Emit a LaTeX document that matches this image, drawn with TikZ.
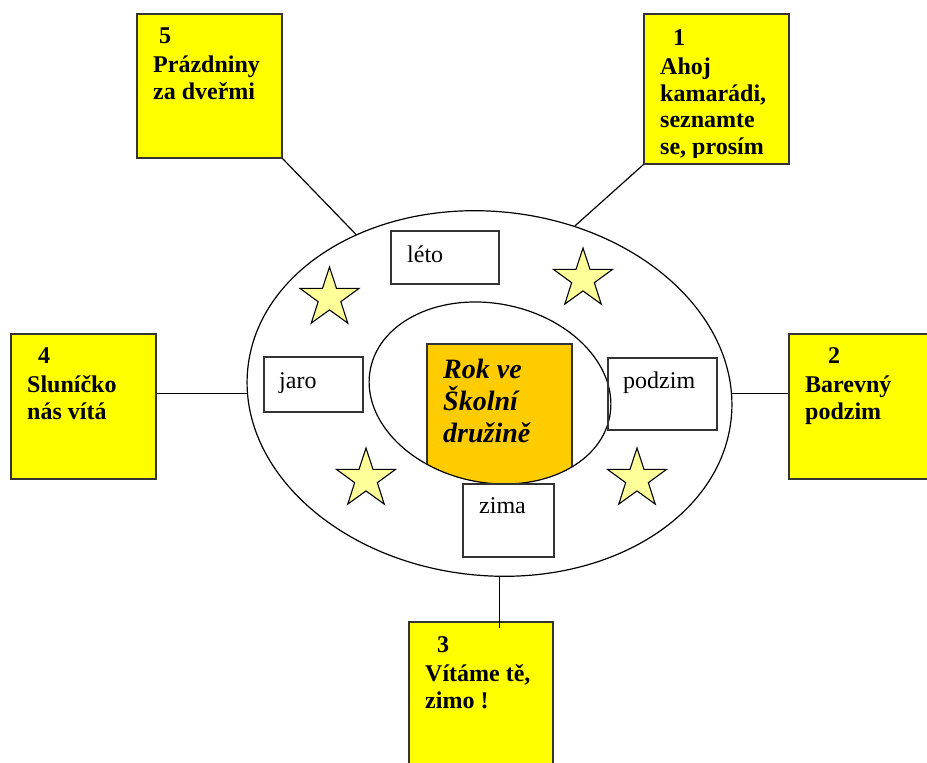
\documentclass[tikz,border=0pt]{standalone}
\usepackage{fontspec}
\setmainfont{Liberation Serif}
\usetikzlibrary{shapes.geometric,calc}
\definecolor{zluta}{HTML}{FFFF00}
\definecolor{oranz}{HTML}{FFCC00}
\definecolor{hvezdy}{HTML}{FFFF99}
\definecolor{ramecek}{HTML}{333333}
\begin{document}
\begin{tikzpicture}[x=1pt,y=-1pt,
	tema/.style={draw=ramecek, fill=zluta, line width=1.3pt, minimum width=145pt, inner sep=0pt},
	obdobi/.style={draw=ramecek, line width=1.3pt, inner sep=0pt},
	hvezda/.style={star, star points=5, star point ratio=2.6, draw, fill=hvezdy, line width=1.1pt, minimum size=62pt, inner sep=0pt},
	popis/.style={anchor=base west, inner sep=0pt, align=left, font=\fontsize{24}{26.5}\selectfont\bfseries},
	slovo/.style={anchor=base west, inner sep=0pt, font=\fontsize{24}{28}\selectfont},
	spoj/.style={line width=1.2pt}]
	\useasboundingbox (0,0) rectangle (927,763);
	% the two rings
	\node [ellipse, draw, fill=white, line width=1.2pt, minimum width=486pt, minimum height=364pt, rotate=-6] (vnejsi) at (489.5,393.5) {};
	\begin{scope}
		\clip [rotate around={-11.5:(490,393)}] (490,393) ellipse (122 and 89.5);
		\node [draw=ramecek, fill=oranz, line width=1.3pt, minimum width=145pt, minimum height=150pt, inner sep=0pt] (rok) at (499.5,419) {};
	\end{scope}
	\node [ellipse, draw, line width=1.2pt, minimum width=244pt, minimum height=179pt, rotate=-11.5] (vnitrni) at (490,393) {};
	% (base = last line)
	\node [anchor=base west, inner sep=0pt, align=left, font=\fontsize{28}{32}\selectfont\bfseries\itshape] (rok-t) at (443,442) {Rok ve\\Školní\\družině};
	% seasons
	\node [obdobi, minimum width=108pt, minimum height=53pt] (leto) at (445,257.5) {};
	\node [slovo] (leto-t) at (407,262) {léto};
	\node [obdobi, minimum width=99pt, minimum height=55pt] (jaro) at (313.5,384.5) {};
	\node [slovo] (jaro-t) at (279,388) {jaro};
	\node [obdobi, minimum width=109pt, minimum height=72pt] (podzim) at (662.5,394) {};
	\node [slovo] (podzim-t) at (623,388) {podzim};
	\node [obdobi, minimum width=91pt, minimum height=73pt] (zima) at (508.5,520.5) {};
	\node [slovo] (zima-t) at (479,513) {zima};
	\foreach \jm/\x/\y in {h1/329.5/298, h2/583/279, h3/366/479, h4/637/479}
		\node [hvezda] (\jm) at (\x,\y) {};
	% topics
	\node [tema, minimum height=150pt] (t1) at (716.5,89) {};
	\node [tema, minimum height=145pt] (t2) at (861.5,406.5) {};
	\node [tema, minimum height=145pt, minimum width=144pt] (t3) at (481,694.5) {};
	\node [tema, minimum height=145pt] (t4) at (83.5,406.5) {};
	\node [tema, minimum height=144pt] (t5) at (209.5,86) {};
	\begin{scope}
		\clip (t1.north west) rectangle ($(t1.south east)+(0,-7)$);
		\node [popis] (t1-t) at (660,154) {\hspace*{13pt}1\\[3pt]Ahoj\\kamarádi,\\seznamte\\se, prosím};
	\end{scope}
	\node [popis] (t2-t) at (805,419) {\hspace*{23pt}2\\[3pt]Barevný\\podzim};
	\node [popis] (t3-t) at (425,708) {\hspace*{12pt}3\\[3pt]Vítáme tě,\\zimo !};
	\node [popis] (t4-t) at (27,419) {\hspace*{11pt}4\\[3pt]Sluníčko\\nás vítá};
	\node [popis] (t5-t) at (153,99) {\hspace*{6pt}5\\[3pt]Prázdniny\\za dveřmi};
	% lines to the ring
	\draw [spoj] (t5.south east) -- (vnejsi.136);
	\draw [spoj] (t1.south west) -- (vnejsi.69);
	\draw [spoj] (t4.east |- vnejsi.186) -- (vnejsi.186);
	\draw [spoj] (vnejsi.6) -- (vnejsi.6 -| t2.west);
	\draw [spoj] (vnejsi.-81) -- ($(vnejsi.-81 |- t3.north)+(0,7)$);
\end{tikzpicture}
\end{document}
